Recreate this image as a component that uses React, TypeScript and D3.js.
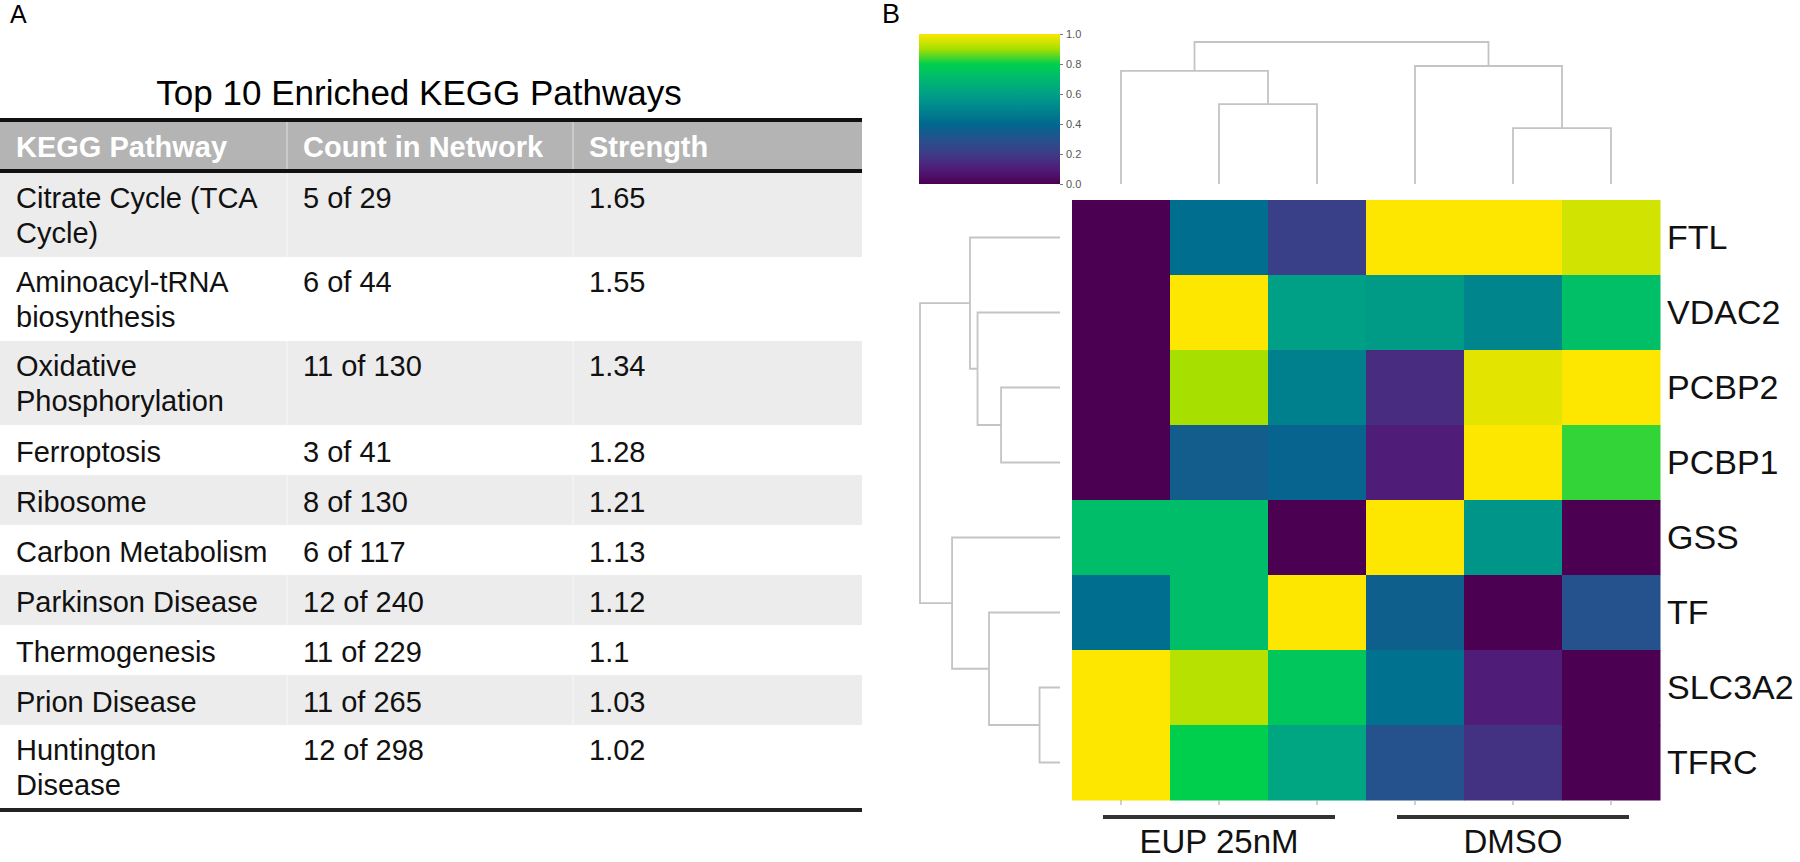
import React, { useRef, useEffect } from 'react';
import * as d3 from 'd3';

// ---- Panel A: KEGG table ----
const tableTitle = 'Top 10 Enriched KEGG Pathways';
const tableHeaders = ['KEGG Pathway', 'Count in Network', 'Strength'];
const pathwayLines = [
  ['Citrate Cycle (TCA', 'Cycle)'],
  ['Aminoacyl-tRNA', 'biosynthesis'],
  ['Oxidative', 'Phosphorylation'],
  ['Ferroptosis'],
  ['Ribosome'],
  ['Carbon Metabolism'],
  ['Parkinson Disease'],
  ['Thermogenesis'],
  ['Prion Disease'],
  ['Huntington', 'Disease'],
];
const counts = ['5 of 29', '6 of 44', '11 of 130', '3 of 41', '8 of 130', '6 of 117', '12 of 240', '11 of 229', '11 of 265', '12 of 298'];
const strengths = ['1.65', '1.55', '1.34', '1.28', '1.21', '1.13', '1.12', '1.1', '1.03', '1.02'];

// ---- Panel B: clustered heatmap ----
const genes = ['FTL', 'VDAC2', 'PCBP2', 'PCBP1', 'GSS', 'TF', 'SLC3A2', 'TFRC'];
const samples = ['EUP_1', 'EUP_2', 'EUP_3', 'DMSO_1', 'DMSO_2', 'DMSO_3'];
const groups = ['EUP 25nM', 'DMSO'];
const sampleGroup = [0, 0, 0, 1, 1, 1];
// row-scaled expression (0..1)
const values = [
  [0.00, 0.42, 0.22, 1.00, 1.00, 0.95],
  [0.00, 1.00, 0.60, 0.58, 0.50, 0.73],
  [0.00, 0.90, 0.48, 0.15, 0.97, 1.00],
  [0.00, 0.35, 0.38, 0.10, 1.00, 0.83],
  [0.72, 0.72, 0.00, 1.00, 0.56, 0.00],
  [0.42, 0.72, 1.00, 0.36, 0.00, 0.30],
  [1.00, 0.92, 0.76, 0.43, 0.10, 0.00],
  [1.00, 0.80, 0.62, 0.30, 0.17, 0.00],
];
// linkage rows: [left, right, distance]; ids >= n refer to earlier merges
const rowLinkage = [[2, 3, 0.421], [1, 8, 0.589], [0, 9, 0.643], [6, 7, 0.146], [5, 11, 0.507], [4, 12, 0.771], [10, 13, 1.0]];
const colLinkage = [[1, 2, 0.563], [0, 6, 0.796], [4, 5, 0.394], [3, 8, 0.831], [7, 9, 1.0]];
const cbarTicks = [0, 0.2, 0.4, 0.6, 0.8, 1.0];
const cmapStops = ['#4b0052', '#4f1c78', '#3e3c86', '#25528c', '#00688e', '#00858d', '#00a086', '#00b870', '#00cf4e', '#a6df00', '#fde700'];

const FONT = '"Liberation Sans", Arial, sans-serif';

function dendroSegments(linkage: number[][], n: number, leafPos: number[]) {
  const pos = leafPos.slice();
  const h: number[] = new Array(n).fill(0);
  const segs: number[][][] = [];
  linkage.forEach(([a, b, d]) => {
    segs.push([[pos[a], h[a]], [pos[a], d], [pos[b], d], [pos[b], h[b]]]);
    pos.push((pos[a] + pos[b]) / 2);
    h.push(d);
  });
  return segs;
}

export default function App() {
  const ref = useRef<SVGSVGElement>(null);
  const width = 1800;
  const height = 862;

  useEffect(() => {
    const svg = d3.select(ref.current);
    svg.selectAll('*').remove();
    svg.style('font-family', FONT);

    // ===== Panel A =====
    const A = svg.append('g');
    A.append('text').attr('x', 10).attr('y', 23).attr('font-size', 25).text('A');

    const colX = [0, 287, 573, 862];
    const pad = 16;
    A.append('text')
      .attr('x', 419).attr('y', 105)
      .attr('text-anchor', 'middle')
      .attr('font-size', 35)
      .text(tableTitle);

    // header
    A.append('rect').attr('x', 0).attr('y', 122).attr('width', colX[3]).attr('height', 47).attr('fill', '#b4b4b4');
    tableHeaders.forEach((hd, i) => {
      A.append('text')
        .attr('x', colX[i] + pad).attr('y', 157)
        .attr('font-size', 29).attr('font-weight', 'bold')
        .attr('fill', '#ffffff')
        .text(hd);
    });

    // body rows
    const singleH = 50, doubleH = 84, lineGap = 35;
    let yy = 173;
    pathwayLines.forEach((lines, i) => {
      const rh = lines.length > 1 ? doubleH : singleH;
      A.append('rect')
        .attr('x', 0).attr('y', yy).attr('width', colX[3]).attr('height', rh)
        .attr('fill', i % 2 === 0 ? '#ececec' : '#ffffff');
      const base = yy + (lines.length > 1 ? 35 : 37);
      const t = A.append('text').attr('x', colX[0] + pad).attr('y', base).attr('font-size', 29).attr('fill', '#111');
      lines.forEach((ln, j) => {
        t.append('tspan').attr('x', colX[0] + pad).attr('y', base + j * lineGap).text(ln);
      });
      A.append('text').attr('x', colX[1] + pad).attr('y', base).attr('font-size', 29).attr('fill', '#111').text(counts[i]);
      A.append('text').attr('x', colX[2] + pad).attr('y', base).attr('font-size', 29).attr('fill', '#111').text(strengths[i]);
      yy += rh;
    });
    const tableBottom = yy;

    // faint column separators
    [colX[1], colX[2]].forEach(cx => {
      A.append('line')
        .attr('x1', cx).attr('x2', cx).attr('y1', 122).attr('y2', tableBottom)
        .attr('stroke', '#ffffff').attr('stroke-opacity', 0.6).attr('stroke-width', 1);
    });

    // rules
    A.append('rect').attr('x', 0).attr('y', 118).attr('width', colX[3]).attr('height', 4).attr('fill', '#111');
    A.append('rect').attr('x', 0).attr('y', 169).attr('width', colX[3]).attr('height', 4).attr('fill', '#111');
    A.append('rect').attr('x', 0).attr('y', tableBottom - 1).attr('width', colX[3]).attr('height', 4).attr('fill', '#222');

    // ===== Panel B =====
    const B = svg.append('g');
    B.append('text').attr('x', 882).attr('y', 23).attr('font-size', 27).text('B');

    const color = d3.scaleLinear<string>()
      .domain(cmapStops.map((_, i) => i / (cmapStops.length - 1)))
      .range(cmapStops)
      .interpolate(d3.interpolateRgb);

    const x = d3.scaleBand().domain(samples).range([1072, 1660]);
    const y = d3.scaleBand().domain(genes).range([200, 800]);

    // cells
    genes.forEach((g, r) => {
      samples.forEach((s, c) => {
        B.append('rect')
          .attr('x', x(s)!).attr('y', y(g)!)
          .attr('width', x.bandwidth() + 0.5).attr('height', y.bandwidth() + 0.5)
          .attr('fill', color(values[r][c]));
      });
    });

    // row labels
    genes.forEach(g => {
      B.append('text')
        .attr('x', 1667).attr('y', y(g)! + y.bandwidth() / 2)
        .attr('dy', '0.35em')
        .attr('font-size', 34).attr('fill', '#111')
        .text(g);
    });

    // bottom ticks
    samples.forEach(s => {
      const cx = x(s)! + x.bandwidth() / 2;
      B.append('line').attr('x1', cx).attr('x2', cx).attr('y1', 800).attr('y2', 805)
        .attr('stroke', '#b0b0b0').attr('stroke-width', 1.2);
    });

    // group bars + labels
    groups.forEach((grp, gi) => {
      const cs = samples.filter((_, i) => sampleGroup[i] === gi).map(s => x(s)! + x.bandwidth() / 2);
      const mid = d3.mean(cs)!;
      B.append('line').attr('x1', mid - 116).attr('x2', mid + 116).attr('y1', 817).attr('y2', 817)
        .attr('stroke', '#333').attr('stroke-width', 4);
      B.append('text').attr('x', mid).attr('y', 853).attr('text-anchor', 'middle')
        .attr('font-size', 33).attr('fill', '#111').text(grp);
    });

    // dendrograms
    const dStroke = '#c4c4c4';
    const line = d3.line();
    const topY = d3.scaleLinear().domain([0, 1]).range([184, 42]);
    const colSegs = dendroSegments(colLinkage, samples.length, samples.map(s => x(s)! + x.bandwidth() / 2));
    colSegs.forEach(seg => {
      B.append('path')
        .attr('d', line(seg.map(([p, d]) => [p, topY(d)] as [number, number])))
        .attr('fill', 'none').attr('stroke', dStroke).attr('stroke-width', 1.8);
    });
    const leftX = d3.scaleLinear().domain([0, 1]).range([1060, 920]);
    const rowSegs = dendroSegments(rowLinkage, genes.length, genes.map(g => y(g)! + y.bandwidth() / 2));
    rowSegs.forEach(seg => {
      B.append('path')
        .attr('d', line(seg.map(([p, d]) => [leftX(d), p] as [number, number])))
        .attr('fill', 'none').attr('stroke', dStroke).attr('stroke-width', 1.8);
    });

    // colorbar
    const defs = svg.append('defs');
    const grad = defs.append('linearGradient').attr('id', 'cbar')
      .attr('x1', 0).attr('x2', 0).attr('y1', 1).attr('y2', 0);
    d3.range(0, 1.0001, 0.05).forEach(v => {
      grad.append('stop').attr('offset', v).attr('stop-color', color(v));
    });
    const cb = d3.scaleLinear().domain([0, 1]).range([184, 34]);
    B.append('rect').attr('x', 919).attr('y', 34).attr('width', 141).attr('height', 150).attr('fill', 'url(#cbar)');
    const cbAxis = B.append('g')
      .attr('transform', 'translate(1060,0)')
      .call(d3.axisRight(cb).tickValues(cbarTicks).tickFormat(d3.format('.1f')).tickSize(3).tickPadding(3));
    cbAxis.select('.domain').remove();
    cbAxis.selectAll('line').attr('stroke', '#777');
    cbAxis.selectAll('text').attr('fill', '#555').attr('font-size', 11).attr('font-family', FONT);
  }, []);

  return (
    <svg
      ref={ref}
      width={width}
      height={height}
      style={{ position: 'absolute', left: 0, top: 0, display: 'block', background: '#fff' }}
    />
  );
}
